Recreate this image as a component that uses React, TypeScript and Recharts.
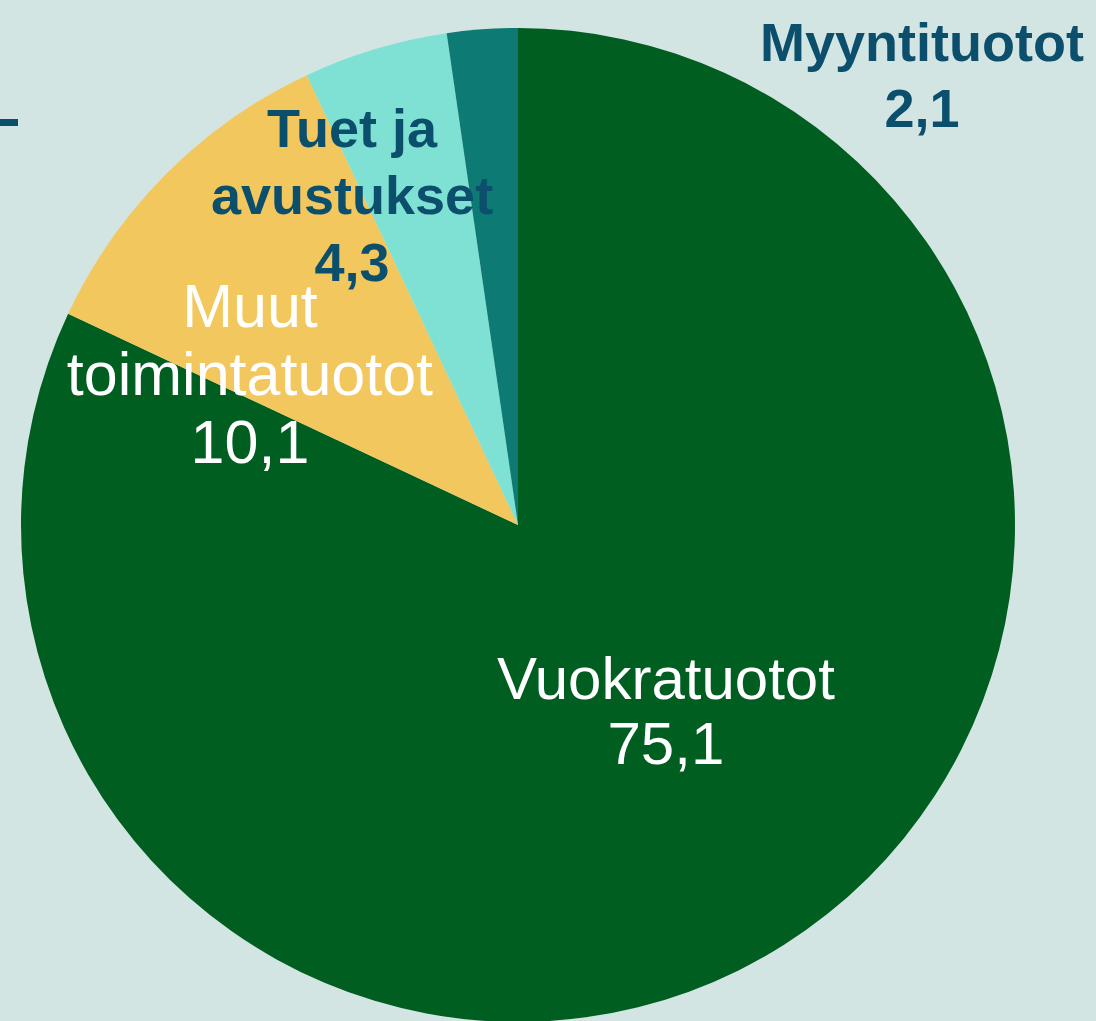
import React from "react";
import { PieChart, Pie, Cell } from "recharts";

const categories = ["Vuokratuotot", "Muut\ntoimintatuotot", "Tuet ja\navustukset", "Myyntituotot"];
const values = [75.1, 10.1, 4.3, 2.1];
const colors = ["#005E21", "#F2C75D", "#7FE1D4", "#0D7A73"];
const labelColors = ["#FFFFFF", "#FFFFFF", "#0B4F6C", "#0B4F6C"];
const labelWeights = [400, 400, 700, 700];
const labelSizes = [60, 61, 54, 54];
// label anchor: [angle in degrees, radius as fraction of outer radius]
const labelAnchors: [number, number][] = [
  [-51.5, 0.478],
  [150.6, 0.619],
  [116.7, 0.743],
  [48.1, 1.217],
];
const lineHeights = [65, 68, 67, 66];

const data = categories.map((name, i) => ({ name, value: values[i] }));

const RAD = Math.PI / 180;

const renderLabel = (props: any) => {
  const { cx, cy, outerRadius, index, name, value } = props;
  const [ang, rf] = labelAnchors[index];
  const r = outerRadius * rf;
  const x = cx + r * Math.cos(-ang * RAD);
  const y = cy + r * Math.sin(-ang * RAD);
  const lines = [...String(name).split("\n"), Number(value).toFixed(1).replace(".", ",")];
  const lh = lineHeights[index];
  return (
    <text
      key={`lbl-${index}`}
      x={x}
      y={y}
      textAnchor="middle"
      fill={labelColors[index]}
      fontFamily="'Liberation Sans', Arial, sans-serif"
      fontWeight={labelWeights[index]}
      fontSize={labelSizes[index]}
    >
      {lines.map((l, i) => (
        <tspan
          key={i}
          x={x}
          y={y + (i - (lines.length - 1) / 2) * lh}
          dominantBaseline="central"
        >
          {l}
        </tspan>
      ))}
    </text>
  );
};

export default function App() {
  return (
    <div
      style={{
        position: "absolute",
        left: 0,
        top: 0,
        width: 1096,
        height: 1021,
        background: "#D3E5E3",
        overflow: "hidden",
      }}
    >
      <div
        style={{
          position: "absolute",
          left: 0,
          top: 119,
          width: 18,
          height: 7,
          background: "#0B4F6C",
        }}
      />
      <PieChart
        width={1096}
        height={1021}
        margin={{ top: 0, right: 0, bottom: 0, left: 0 }}
        style={{ position: "absolute", left: 0, top: 0 }}
      >
        <Pie
          data={data}
          dataKey="value"
          nameKey="name"
          cx={518}
          cy={525}
          outerRadius={497}
          startAngle={90}
          endAngle={-270}
          stroke="none"
          labelLine={false}
          label={renderLabel}
          isAnimationActive={false}
        >
          {data.map((d, i) => (
            <Cell key={d.name} fill={colors[i]} />
          ))}
        </Pie>
      </PieChart>
    </div>
  );
}
